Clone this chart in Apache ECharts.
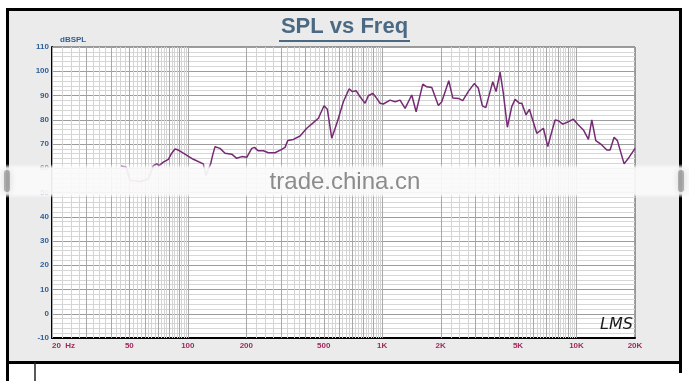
<!DOCTYPE html>
<html>
<head>
<meta charset="utf-8">
<script src="https://cdn.jsdelivr.net/npm/echarts@6/dist/echarts.min.js"></script>
<style>
  html, body { margin: 0; padding: 0; background: #ffffff; }
  #chart { width: 689px; height: 381px; }
</style>
</head>
<body>
<div id="chart"></div>
<script>
// ---- data ----
const titleText = 'SPL vs Freq';
const yAxisName = 'dBSPL';
const freqHz = [45.3, 46.1, 48.1, 50.4, 56.8, 62.4, 64.7, 66.4, 69.2, 71.1, 74.8, 79.4, 82.6, 85.9, 89.3, 94.8,
  106.7, 120.1, 124.0, 131.2, 134.3, 138.0, 140.9, 146.4, 155.4, 168.3, 178.5, 189.4, 201.0, 213.3, 220.4,
  229.8, 244.7, 259.7, 281.0, 304.2, 316.4, 326.7, 349.2, 378.0, 409.2, 442.6, 469.6, 502.2, 522.4, 550.2,
  588.0, 631.4, 675.6, 702.6, 734.0, 769.6, 816.4, 849.2, 894.6, 938.0, 975.4, 1014, 1098, 1165, 1236,
  1312, 1420, 1495, 1618, 1696, 1800, 1946, 2026, 2202, 2308, 2468, 2598, 2778, 2978, 3126, 3278, 3414,
  3708, 3856, 4044, 4204, 4408, 4644, 4830, 5082, 5230, 5502, 5722, 6246, 6756, 7116, 7462, 7760, 8070,
  8500, 9084, 9640, 10228, 10854, 11516, 11990, 12570, 13496, 14320, 14890, 15612, 16236, 17578, 18494, 20000];
const splDb = [60.9, 60.9, 60.5, 55.0, 54.5, 55.5, 58.5, 61.1, 61.8, 61.1, 62.5, 63.7, 66.2, 67.9, 67.5, 66.2,
  63.7, 61.8, 57.0, 62.0, 65.5, 68.9, 69.6, 68.2, 66.2, 65.8, 64.1, 64.8, 64.5, 68.2, 68.6,
  67.2, 67.2, 66.4, 66.4, 67.8, 68.6, 71.4, 71.9, 73.3, 76.5, 78.8, 80.6, 85.8, 84.3, 72.4,
  79.2, 87.4, 92.7, 91.6, 92.0, 89.5, 86.8, 89.9, 90.9, 88.8, 86.8, 86.5, 88.1, 87.4, 88.1,
  84.7, 90.2, 83.3, 94.7, 93.6, 93.3, 85.9, 87.4, 96.1, 89.0, 88.8, 87.9, 91.7, 94.9, 93.0, 85.7, 85.0,
  95.7, 91.6, 99.6, 90.9, 76.9, 85.4, 88.4, 86.8, 86.8, 82.0, 84.3, 74.4, 76.5, 68.9, 75.1, 79.9, 79.6,
  78.2, 79.2, 80.2, 77.8, 75.8, 71.9, 79.9, 71.4, 69.6, 67.5, 67.5, 72.8, 71.4, 61.8, 64.1, 68.2];
const xTickValues = [20, 50, 100, 200, 500, 1000, 2000, 5000, 10000, 20000];
const xTickLabels = ['20  Hz', '50', '100', '200', '500', '1K', '2K', '5K', '10K', '20K'];
const decadeBases = [10, 100, 1000, 10000];

// vertical log grid: every quarter step inside each decade (20, 22.5, 25 ... )
const vGrid = [];
decadeBases.forEach(function (b) {
  for (let k = 8; k <= 40; k++) {
    const v = k * b / 4;
    if (v < 20 || v > 20000) continue;
    vGrid.push([v, k % 4 === 0 ? 1 : 0]);
  }
});

const series = freqHz.map(function (f, i) { return [f, splDb[i]]; });
const labelMap = {};
xTickValues.forEach(function (v, i) { labelMap[v] = xTickLabels[i]; });

const chart = echarts.init(document.getElementById('chart'), null, { renderer: 'canvas' });
const narrow = "'Liberation Sans Narrow', 'Liberation Sans', Arial, sans-serif";

chart.setOption({
  backgroundColor: '#ffffff',
  animation: false,
  title: {
    text: titleText,
    left: 'center',
    top: 16,
    padding: 0,
    textStyle: { color: '#4c6984', fontSize: 22, fontWeight: 'bold', fontFamily: "'Liberation Sans', Arial, sans-serif" }
  },
  grid: {
    left: 52, right: 54, top: 47, bottom: 43,
    show: true, backgroundColor: '#ffffff', borderColor: '#444444', borderWidth: 1
  },
  xAxis: {
    type: 'log', logBase: 10, min: 20, max: 20000,
    axisLine: { show: true, onZero: false, lineStyle: { color: '#000', width: 2 } },
    axisTick: { show: false },
    splitLine: { show: false },
    axisLabel: {
      customValues: xTickValues,
      formatter: function (v) { return labelMap[Math.round(v)] || ''; },
      color: '#a3285e', fontSize: 8, fontWeight: 'bold', fontFamily: narrow,
      margin: 4, alignMinLabel: 'left', alignMaxLabel: 'center', hideOverlap: false
    }
  },
  yAxis: {
    type: 'value', min: -10, max: 110, interval: 10,
    name: yAxisName, nameLocation: 'end', nameGap: 3,
    nameTextStyle: { color: '#2f5f96', fontSize: 8, fontWeight: 'bold', fontFamily: narrow, align: 'left', padding: [0, 0, 0, 8] },
    axisLine: { show: true, lineStyle: { color: '#000', width: 2 } },
    axisTick: { show: false },
    minorTick: { show: false, splitNumber: 5 },
    splitLine: { show: true, lineStyle: { color: '#9c9c9c', width: 1 } },
    minorSplitLine: { show: true, lineStyle: { color: '#d6d6d6', width: 1 } },
    axisLabel: { color: '#2f5f96', fontSize: 8, fontWeight: 'bold', fontFamily: narrow, margin: 3 }
  },
  series: [
    {
      type: 'custom',
      silent: true,
      z: 1,
      clip: true,
      data: vGrid,
      renderItem: function (params, api) {
        const f = api.value(0);
        const p1 = api.coord([f, 110]);
        const p2 = api.coord([f, -10]);
        return {
          type: 'line',
          shape: { x1: Math.round(p1[0]) + 0.5, y1: p1[1], x2: Math.round(p2[0]) + 0.5, y2: p2[1] },
          style: { stroke: api.value(1) ? '#a8a8a8' : '#d4d4d4', lineWidth: 1 }
        };
      }
    },
    {
      type: 'line',
      z: 5,
      data: series,
      showSymbol: false,
      symbol: 'none',
      smooth: false,
      lineStyle: { color: '#762a74', width: 1.5 }
    }
  ],
  graphic: [
    // outer frame
    { type: 'rect', z: -10, shape: { x: 7.5, y: 9.5, width: 673, height: 353 },
      style: { fill: '#ebebeb', stroke: '#000', lineWidth: 3 } },
    { type: 'line', z: -10, shape: { x1: 7.5, y1: 362, x2: 7.5, y2: 381 }, style: { stroke: '#000', lineWidth: 3 } },
    { type: 'line', z: -10, shape: { x1: 680.5, y1: 362, x2: 680.5, y2: 373 }, style: { stroke: '#000', lineWidth: 3 } },
    { type: 'line', z: -10, shape: { x1: 35, y1: 362, x2: 35, y2: 381 }, style: { stroke: '#222', lineWidth: 1.5 } },
    // title underline
    { type: 'line', z: 10, shape: { x1: 279, y1: 41, x2: 410, y2: 41 }, style: { stroke: '#4c6984', lineWidth: 2 } },
    // LMS logo
    { type: 'text', z: 10, x: 600, y: 317,
      style: { text: 'LMS', fill: '#1a1a1a', fontSize: 16, fontStyle: 'italic', fontFamily: "'DejaVu Sans', sans-serif" } },
    // watermark band
    { type: 'rect', z: 100, silent: true, shape: { x: 0, y: 164, width: 689, height: 34 },
      style: { fill: new echarts.graphic.LinearGradient(0, 0, 0, 1, [
        { offset: 0, color: 'rgba(250,250,250,0)' },
        { offset: 0.12, color: 'rgba(250,250,250,0.93)' },
        { offset: 0.88, color: 'rgba(250,250,250,0.93)' },
        { offset: 1, color: 'rgba(250,250,250,0)' }
      ]) } },
    // blurred border smudges inside the band
    { type: 'rect', z: 101, silent: true, shape: { x: 4, y: 170, width: 6, height: 22, r: 3 },
      style: { fill: 'rgba(60,60,60,0.35)', shadowBlur: 6, shadowColor: 'rgba(60,60,60,0.5)' } },
    { type: 'rect', z: 101, silent: true, shape: { x: 678, y: 170, width: 6, height: 22, r: 3 },
      style: { fill: 'rgba(60,60,60,0.35)', shadowBlur: 6, shadowColor: 'rgba(60,60,60,0.5)' } },
    { type: 'text', z: 101, silent: true, x: 345, y: 182,
      style: { text: 'trade.china.cn', fill: '#8c8c8c', fontSize: 24, fontFamily: "'Liberation Sans', Arial, sans-serif",
        align: 'center', verticalAlign: 'middle' } }
  ]
});
</script>
</body>
</html>
